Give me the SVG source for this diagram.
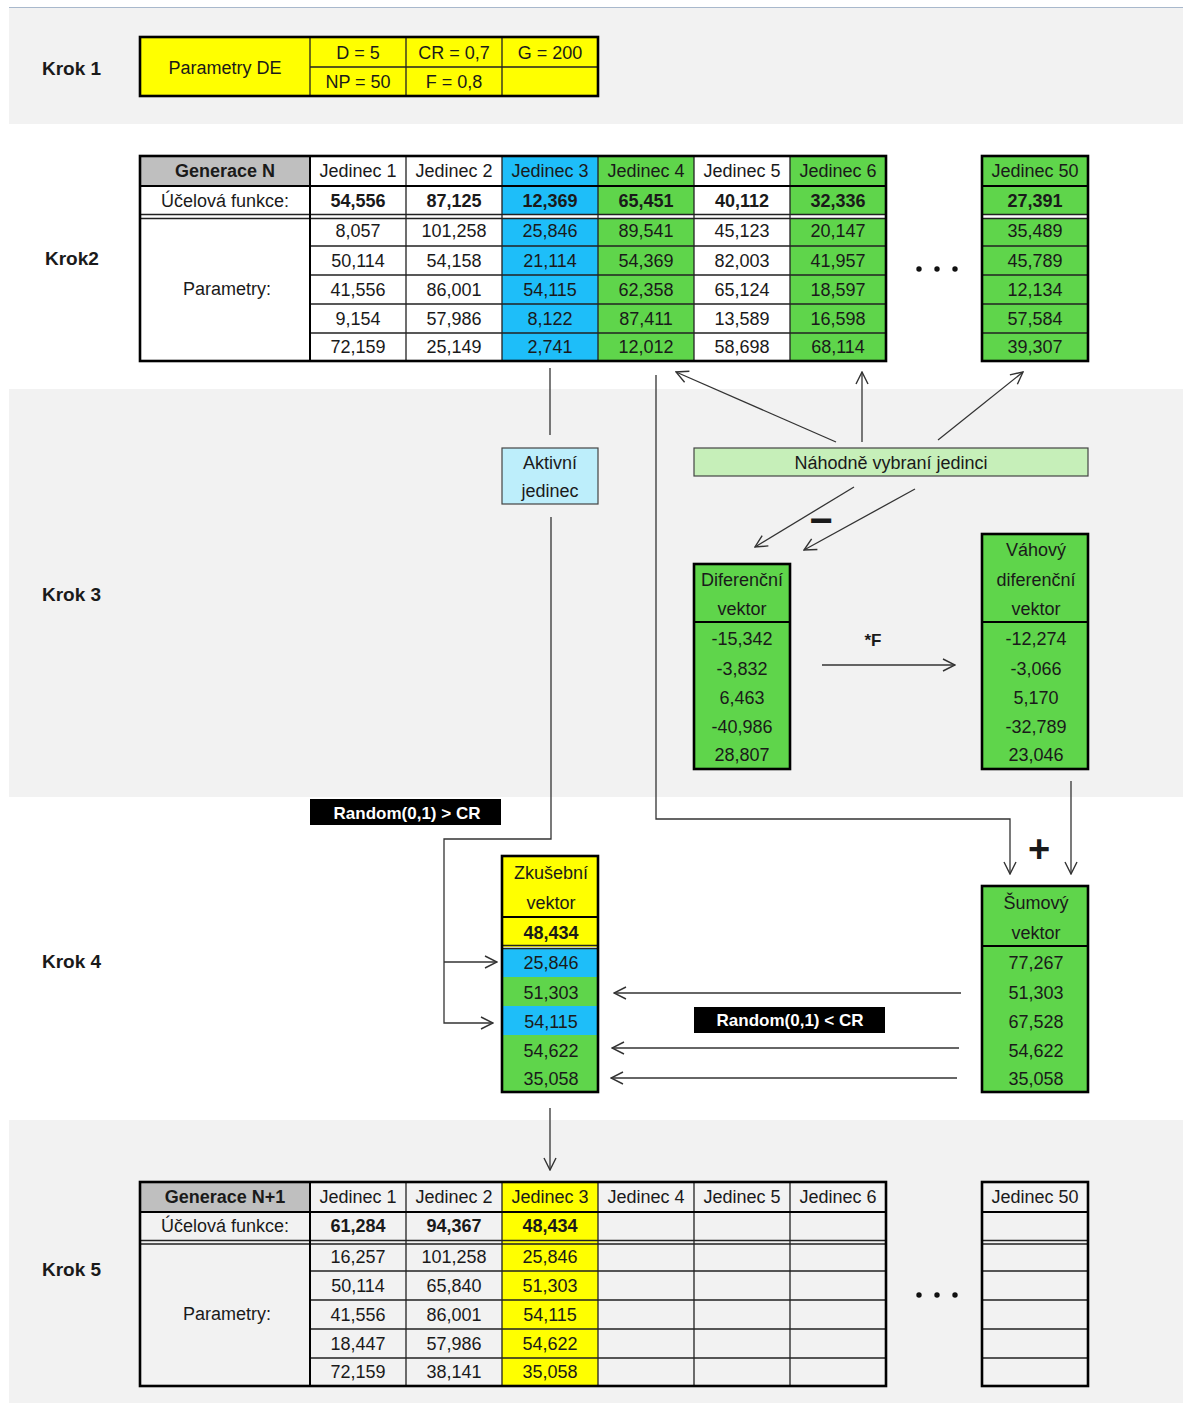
<svg xmlns="http://www.w3.org/2000/svg" width="1183" height="1403" viewBox="0 0 1183 1403">
<style>
.t{font-family:"Liberation Sans",Arial,sans-serif;font-size:18px;fill:#1a1a1a;text-anchor:middle;dominant-baseline:central}
.b{font-weight:bold}
.k{font-family:"Liberation Sans",Arial,sans-serif;font-size:19px;font-weight:bold;fill:#1a1a1a;dominant-baseline:central}
.w{font-family:"Liberation Sans",Arial,sans-serif;font-size:17px;font-weight:bold;fill:#fff;text-anchor:middle;dominant-baseline:central}
.thin{stroke:#222;stroke-width:1.3;fill:none}
.mid{stroke:#000;stroke-width:2;fill:none}
.outer{stroke:#000;stroke-width:2.6;fill:none}
.box{stroke:#444;stroke-width:1.2}
.conn{stroke:#333;stroke-width:1.3;fill:none}
.arr{marker-end:url(#ah)}
.gr{fill:#5fd54b}.cy{fill:#1ebef9}.ye{fill:#ffff00}.gy{fill:#bfbfbf}
</style>
<defs>
<marker id="ah" viewBox="0 0 14 14" refX="13" refY="7" markerWidth="14" markerHeight="14" markerUnits="userSpaceOnUse" orient="auto">
<path d="M1,1 L13,7 L1,13" fill="none" stroke="#333" stroke-width="1.4"/>
</marker>
</defs>
<rect width="1183" height="1403" fill="#fff"/>
<g id="bands">
<rect x="9" y="8" width="1174" height="116" fill="#f2f2f2"/>
<rect x="9" y="389" width="1174" height="408" fill="#f2f2f2"/>
<rect x="9" y="1120" width="1174" height="283" fill="#f2f2f2"/>
<line x1="9" y1="7.5" x2="1183" y2="7.5" stroke="#a8b8cc" stroke-width="1.2"/>
</g>
<g id="krok-labels">
<text class="k" x="42" y="68">Krok 1</text>
<text class="k" x="45" y="258">Krok2</text>
<text class="k" x="42" y="594">Krok 3</text>
<text class="k" x="42" y="961">Krok 4</text>
<text class="k" x="42" y="1269">Krok 5</text>
</g>
<g id="krok1-table">
<rect x="140" y="37" width="458" height="59" class="ye"/>
<path class="thin" d="M310 37V96 M406 37V96 M502 37V96 M310 67H598"/>
<rect x="140" y="37" width="458" height="59" class="outer"/>
<text class="t" x="225" y="68">Parametry DE</text>
<text class="t" x="358" y="53">D = 5</text>
<text class="t" x="454" y="53">CR = 0,7</text>
<text class="t" x="550" y="53">G = 200</text>
<text class="t" x="358" y="82">NP = 50</text>
<text class="t" x="454" y="82">F = 0,8</text>
</g>
<g id="generace-n">
<rect x="140" y="156" width="170" height="30" class="gy"/>
<rect x="502" y="156" width="96" height="205" class="cy"/>
<rect x="598" y="156" width="96" height="205" class="gr"/>
<rect x="790" y="156" width="96" height="205" class="gr"/>
<rect x="140" y="215" width="746" height="3.5" fill="#fff"/>
<path class="thin" d="M406 156V361 M502 156V361 M598 156V361 M694 156V361 M790 156V361 M310 246H886 M310 275H886 M310 304H886 M310 333H886 M140 214.5H886 M140 218.5H886"/>
<path class="mid" d="M310 156V361 M140 186H886"/>
<rect x="140" y="156" width="746" height="205" class="outer"/>
<text class="t b" x="225" y="171">Generace N</text>
<text class="t" x="358" y="171">Jedinec 1</text>
<text class="t" x="454" y="171">Jedinec 2</text>
<text class="t" x="550" y="171">Jedinec 3</text>
<text class="t" x="646" y="171">Jedinec 4</text>
<text class="t" x="742" y="171">Jedinec 5</text>
<text class="t" x="838" y="171">Jedinec 6</text>
<text class="t" x="225" y="201">Účelová funkce:</text>
<text class="t b" x="358" y="201">54,556</text>
<text class="t b" x="454" y="201">87,125</text>
<text class="t b" x="550" y="201">12,369</text>
<text class="t b" x="646" y="201">65,451</text>
<text class="t b" x="742" y="201">40,112</text>
<text class="t b" x="838" y="201">32,336</text>
<text class="t" x="227" y="289">Parametry:</text>
<text class="t" x="358" y="231">8,057</text><text class="t" x="358" y="261">50,114</text><text class="t" x="358" y="290">41,556</text><text class="t" x="358" y="319">9,154</text><text class="t" x="358" y="347">72,159</text>
<text class="t" x="454" y="231">101,258</text><text class="t" x="454" y="261">54,158</text><text class="t" x="454" y="290">86,001</text><text class="t" x="454" y="319">57,986</text><text class="t" x="454" y="347">25,149</text>
<text class="t" x="550" y="231">25,846</text><text class="t" x="550" y="261">21,114</text><text class="t" x="550" y="290">54,115</text><text class="t" x="550" y="319">8,122</text><text class="t" x="550" y="347">2,741</text>
<text class="t" x="646" y="231">89,541</text><text class="t" x="646" y="261">54,369</text><text class="t" x="646" y="290">62,358</text><text class="t" x="646" y="319">87,411</text><text class="t" x="646" y="347">12,012</text>
<text class="t" x="742" y="231">45,123</text><text class="t" x="742" y="261">82,003</text><text class="t" x="742" y="290">65,124</text><text class="t" x="742" y="319">13,589</text><text class="t" x="742" y="347">58,698</text>
<text class="t" x="838" y="231">20,147</text><text class="t" x="838" y="261">41,957</text><text class="t" x="838" y="290">18,597</text><text class="t" x="838" y="319">16,598</text><text class="t" x="838" y="347">68,114</text>
</g>
<g id="dots-n">
<circle cx="919" cy="269" r="2.7" fill="#111"/><circle cx="937" cy="269" r="2.7" fill="#111"/><circle cx="955" cy="269" r="2.7" fill="#111"/>
</g>
<g id="generace-n-j50">
<rect x="982" y="156" width="106" height="205" class="gr"/>
<rect x="982" y="215" width="106" height="3.5" fill="#fff"/>
<path class="thin" d="M982 246H1088 M982 275H1088 M982 304H1088 M982 333H1088 M982 214.5H1088 M982 218.5H1088"/>
<path class="mid" d="M982 186H1088"/>
<rect x="982" y="156" width="106" height="205" class="outer"/>
<text class="t" x="1035" y="171">Jedinec 50</text>
<text class="t b" x="1035" y="201">27,391</text>
<text class="t" x="1035" y="231">35,489</text><text class="t" x="1035" y="261">45,789</text><text class="t" x="1035" y="290">12,134</text><text class="t" x="1035" y="319">57,584</text><text class="t" x="1035" y="347">39,307</text>
</g>
<g id="aktivni-jedinec">
<rect x="502" y="448" width="96" height="56" fill="#bdeefb" class="box"/>
<text class="t" x="550" y="463">Aktivní</text>
<text class="t" x="550" y="491">jedinec</text>
</g>
<g id="nahodne-vybrani">
<rect x="694" y="448" width="394" height="28" fill="#c6efb9" class="box"/>
<text class="t" x="891" y="463">Náhodně vybraní jedinci</text>
</g>
<g id="diferencni-vektor">
<rect x="694" y="564" width="96" height="205" class="gr"/>
<path class="mid" d="M694 622H790"/>
<rect x="694" y="564" width="96" height="205" class="outer"/>
<text class="t" x="742" y="580">Diferenční</text>
<text class="t" x="742" y="609">vektor</text>
<text class="t" x="742" y="639">-15,342</text><text class="t" x="742" y="669">-3,832</text><text class="t" x="742" y="698">6,463</text><text class="t" x="742" y="727">-40,986</text><text class="t" x="742" y="755">28,807</text>
</g>
<g id="vahovy-vektor">
<rect x="982" y="534" width="106" height="235" class="gr"/>
<path class="mid" d="M982 622H1088"/>
<rect x="982" y="534" width="106" height="235" class="outer"/>
<text class="t" x="1036" y="550">Váhový</text>
<text class="t" x="1036" y="580">diferenční</text>
<text class="t" x="1036" y="609">vektor</text>
<text class="t" x="1036" y="639">-12,274</text><text class="t" x="1036" y="669">-3,066</text><text class="t" x="1036" y="698">5,170</text><text class="t" x="1036" y="727">-32,789</text><text class="t" x="1036" y="755">23,046</text>
</g>
<g id="random-gt-cr">
<rect x="310" y="799" width="191" height="26" fill="#000"/>
<text class="w" x="407" y="813">Random(0,1) &gt; CR</text>
</g>
<g id="zkusebni-vektor">
<rect x="502" y="856" width="96" height="91" class="ye"/>
<rect x="502" y="948" width="96" height="29" class="cy"/>
<rect x="502" y="977" width="96" height="29" class="gr"/>
<rect x="502" y="1006" width="96" height="29" class="cy"/>
<rect x="502" y="1035" width="96" height="57" class="gr"/>
<path class="mid" d="M502 917H598"/>
<path class="thin" d="M502 945.5H598 M502 948.5H598"/>
<rect x="502" y="856" width="96" height="236" class="outer"/>
<text class="t" x="551" y="873">Zkušební</text>
<text class="t" x="551" y="903">vektor</text>
<text class="t b" x="551" y="933">48,434</text>
<text class="t" x="551" y="963">25,846</text><text class="t" x="551" y="993">51,303</text><text class="t" x="551" y="1022">54,115</text><text class="t" x="551" y="1051">54,622</text><text class="t" x="551" y="1079">35,058</text>
</g>
<g id="sumovy-vektor">
<rect x="982" y="886" width="106" height="206" class="gr"/>
<path class="mid" d="M982 946H1088"/>
<rect x="982" y="886" width="106" height="206" class="outer"/>
<text class="t" x="1036" y="903">Šumový</text>
<text class="t" x="1036" y="933">vektor</text>
<text class="t" x="1036" y="963">77,267</text><text class="t" x="1036" y="993">51,303</text><text class="t" x="1036" y="1022">67,528</text><text class="t" x="1036" y="1051">54,622</text><text class="t" x="1036" y="1079">35,058</text>
</g>
<g id="random-lt-cr">
<rect x="694" y="1007" width="191" height="26" fill="#000"/>
<text class="w" x="790" y="1020">Random(0,1) &lt; CR</text>
</g>
<g id="generace-n1">
<rect x="140" y="1182" width="746" height="204" fill="#f2f2f2"/>
<rect x="140" y="1182" width="170" height="30" class="gy"/>
<rect x="502" y="1182" width="96" height="204" class="ye"/>
<path class="thin" d="M406 1182V1386 M502 1182V1386 M598 1182V1386 M694 1182V1386 M790 1182V1386 M310 1271H886 M310 1300H886 M310 1329H886 M310 1358H886 M140 1240.5H886 M140 1244H886"/>
<path class="mid" d="M310 1182V1386 M140 1212H886"/>
<rect x="140" y="1182" width="746" height="204" class="outer"/>
<text class="t b" x="225" y="1197">Generace N+1</text>
<text class="t" x="358" y="1197">Jedinec 1</text>
<text class="t" x="454" y="1197">Jedinec 2</text>
<text class="t" x="550" y="1197">Jedinec 3</text>
<text class="t" x="646" y="1197">Jedinec 4</text>
<text class="t" x="742" y="1197">Jedinec 5</text>
<text class="t" x="838" y="1197">Jedinec 6</text>
<text class="t" x="225" y="1226">Účelová funkce:</text>
<text class="t b" x="358" y="1226">61,284</text>
<text class="t b" x="454" y="1226">94,367</text>
<text class="t b" x="550" y="1226">48,434</text>
<text class="t" x="227" y="1314">Parametry:</text>
<text class="t" x="358" y="1257">16,257</text><text class="t" x="358" y="1286">50,114</text><text class="t" x="358" y="1315">41,556</text><text class="t" x="358" y="1344">18,447</text><text class="t" x="358" y="1372">72,159</text>
<text class="t" x="454" y="1257">101,258</text><text class="t" x="454" y="1286">65,840</text><text class="t" x="454" y="1315">86,001</text><text class="t" x="454" y="1344">57,986</text><text class="t" x="454" y="1372">38,141</text>
<text class="t" x="550" y="1257">25,846</text><text class="t" x="550" y="1286">51,303</text><text class="t" x="550" y="1315">54,115</text><text class="t" x="550" y="1344">54,622</text><text class="t" x="550" y="1372">35,058</text>
</g>
<g id="dots-n1">
<circle cx="919" cy="1295" r="2.7" fill="#111"/><circle cx="937" cy="1295" r="2.7" fill="#111"/><circle cx="955" cy="1295" r="2.7" fill="#111"/>
</g>
<g id="generace-n1-j50">
<path class="thin" d="M982 1271H1088 M982 1300H1088 M982 1329H1088 M982 1358H1088 M982 1240.5H1088 M982 1244H1088"/>
<path class="mid" d="M982 1212H1088"/>
<rect x="982" y="1182" width="106" height="204" class="outer"/>
<text class="t" x="1035" y="1197">Jedinec 50</text>
</g>
<g id="connectors">
<line class="conn" x1="550" y1="368" x2="550" y2="435"/>
<polyline class="conn arr" points="551,517 551,839 444,839 444,1023 493,1023"/>
<line class="conn arr" x1="444" y1="962" x2="497" y2="962"/>
<line class="conn arr" x1="836" y1="442" x2="676" y2="372"/>
<line class="conn arr" x1="862" y1="442" x2="862" y2="372"/>
<line class="conn arr" x1="938" y1="440" x2="1023" y2="372"/>
<line class="conn arr" x1="854" y1="487" x2="755" y2="547"/>
<line class="conn arr" x1="915" y1="489" x2="804" y2="550"/>
<line class="conn arr" x1="822" y1="665" x2="955" y2="665"/>
<polyline class="conn arr" points="656,375 656,819 1010,819 1010,874"/>
<line class="conn arr" x1="1071" y1="781" x2="1071" y2="874"/>
<line class="conn arr" x1="961" y1="993" x2="614" y2="993"/>
<line class="conn arr" x1="959" y1="1048" x2="612" y2="1048"/>
<line class="conn arr" x1="957" y1="1078" x2="611" y2="1078"/>
<line class="conn arr" x1="550" y1="1108" x2="550" y2="1170"/>
</g>
<g id="operators">
<text class="k" x="821" y="520" text-anchor="middle" style="font-size:40px">−</text>
<text class="k" x="873" y="640" text-anchor="middle" style="font-size:17px">*F</text>
<text class="k" x="1039" y="849" text-anchor="middle" style="font-size:38px">+</text>
</g>
</svg>
